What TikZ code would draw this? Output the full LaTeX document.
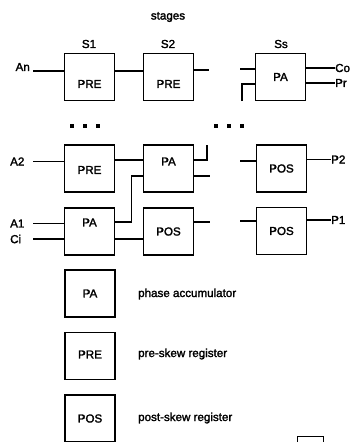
\documentclass[tikz,border=0pt]{standalone}
\usepackage{fontspec}
\setmainfont{Liberation Sans}
\newfontfamily\lblfont{Liberation Sans}[FakeBold=2]
\begin{document}
\begin{tikzpicture}[x=1pt,y=-1pt,
  box/.style={draw, line width=1.5pt, minimum width=50pt, minimum height=47pt, inner sep=0pt},
  txt/.style={inner sep=0pt, font=\lblfont\fontsize{11.6}{13}\selectfont},
  wire/.style={line width=1.4pt},
  dot/.style={rectangle, fill, inner sep=0pt, minimum size=3.2pt}]
\useasboundingbox (0,0) rectangle (352,442);
\clip (0,0) rectangle (352,442);

% headings
\node[txt] (stages) at (168,17) {stages};
\node[txt] (S1) at (89,44) {S1};
\node[txt] (S2) at (168,44) {S2};
\node[txt] (Ss) at (281,44) {Ss};

% boxes
\node[box] (R1a) at (89.5,77) {};
\node[box] (R1b) at (168.5,77) {};
\node[box] (R1s) at (280.5,77) {};
\node[box] (R2a) at (89.5,168.5) {};
\node[box] (R2b) at (168.5,168.5) {};
\node[box] (R2s) at (281.5,168.5) {};
\node[box] (R3a) at (89.5,231.5) {};
\node[box] (R3b) at (168.5,231.5) {};
\node[box] (R3s) at (281.5,231) {};
\node[box] (LPA) at (90,293.5) {};
\node[box] (LPRE) at (90,356) {};
\node[box] (LPOS) at (90,418.5) {};

% box texts
\node[txt] (t1a) at ([yshift=-7pt]R1a.center) {PRE};
\node[txt] (t1b) at ([yshift=-7pt]R1b.center) {PRE};
\node[txt] (t1s) at (R1s.center) {PA};
\node[txt] (t2a) at ([yshift=-1.5pt]R2a.center) {PRE};
\node[txt] (t2b) at ([yshift=7pt]R2b.center) {PA};
\node[txt] (t2s) at (R2s.center) {POS};
\node[txt] (t3a) at ([yshift=9pt]R3a.center) {PA};
\node[txt] (t3b) at (R3b.center) {POS};
\node[txt] (t3s) at (R3s.center) {POS};
\node[txt] (tLPA) at (LPA.center) {PA};
\node[txt] (tLPRE) at ([yshift=1.5pt]LPRE.center) {PRE};
\node[txt] (tLPOS) at (LPOS.center) {POS};

% legend descriptions
\node[txt, anchor=west] (dPA) at (138,294) {phase accumulator};
\node[txt, anchor=west] (dPRE) at (138,354) {pre-skew register};
\node[txt, anchor=west] (dPOS) at (138,418) {post-skew register};

% input / output labels
\coordinate (inx) at (33,0);
\node[txt, anchor=east] (An) at (30,67) {An};
\node[txt, anchor=west] (A2) at (10,161.5) {A2};
\node[txt, anchor=west] (A1) at (10,223.5) {A1};
\node[txt, anchor=west] (Ci) at (10,239) {Ci};
\node[txt, anchor=west] (Co) at (335,68) {Co};
\node[txt, anchor=west] (Pr) at (335,83) {Pr};
\node[txt, anchor=west] (P2) at (331,159.5) {P2};
\node[txt, anchor=west] (P1) at (331,220) {P1};

% free ends
\coordinate (s1) at (209,70);
\coordinate (s2) at (240,69);
\coordinate (s3) at (242,101);
\coordinate (s4) at (207,145);
\coordinate (s5) at (210,176);
\coordinate (s6) at (240,161);
\coordinate (s8) at (210,222);
\coordinate (s9) at (240,221);
\coordinate (y1) at (0,71);

% row 1
\draw[wire] (inx |- y1) -- (R1a.west |- y1);
\draw[wire] ([yshift=6pt]R1a.east) -- ([yshift=6pt]R1b.west);
\draw[wire] ([yshift=7pt]R1b.east) -- (s1);
\draw[wire] (s2) -- (R1s.west |- s2);
\draw[wire] (s3) |- ([yshift=-7pt]R1s.west);
\draw[wire] ([yshift=9pt]R1s.east) -- (Co.west);
\draw[wire] ([yshift=-6pt]R1s.east) -- (Pr.west);

% row 2
\draw[wire] (inx |- A2.west) -- (R2a.west |- A2.west);
\draw[wire] ([yshift=8.5pt]R2a.east) -- ([yshift=8.5pt]R2b.west);
\draw[wire] ([yshift=8.5pt]R2b.east) -| (s4);
\draw[wire] ([yshift=-7.5pt]R2b.east) -- (s5);
\draw[wire] (s6) -- (R2s.west |- s6);
\draw[wire] ([yshift=9pt]R2s.east) -- (P2.west);

% row 3
\draw[wire] (inx |- A1.west) -- (R3a.west |- A1.west);
\draw[wire] (inx |- Ci.west) -- (R3a.west |- Ci.west);
\draw[wire] ([yshift=9.5pt]R3a.east) -- ++(16,0) |- ([yshift=-7.5pt]R2b.west);
\draw[wire] ([yshift=-7.5pt]R3a.east) -- ([yshift=-7.5pt]R3b.west);
\draw[wire] ([yshift=9.5pt]R3b.east) -- (s8);
\draw[wire] (s9) -- (R3s.west |- s9);
\draw[wire] ([yshift=11pt]R3s.east) -- (P1.west);

% dots
\node[dot] (d1) at (72,126) {};
\node[dot] (d2) at (85,126) {};
\node[dot] (d3) at (98,126) {};
\node[dot] (d4) at (216,126) {};
\node[dot] (d5) at (229,126) {};
\node[dot] (d6) at (242,126) {};

% stamp at bottom right
\draw[line width=0.5pt] (297,443) -- (297,436) -- (323,436) -- (323,443);
\end{tikzpicture}
\end{document}
